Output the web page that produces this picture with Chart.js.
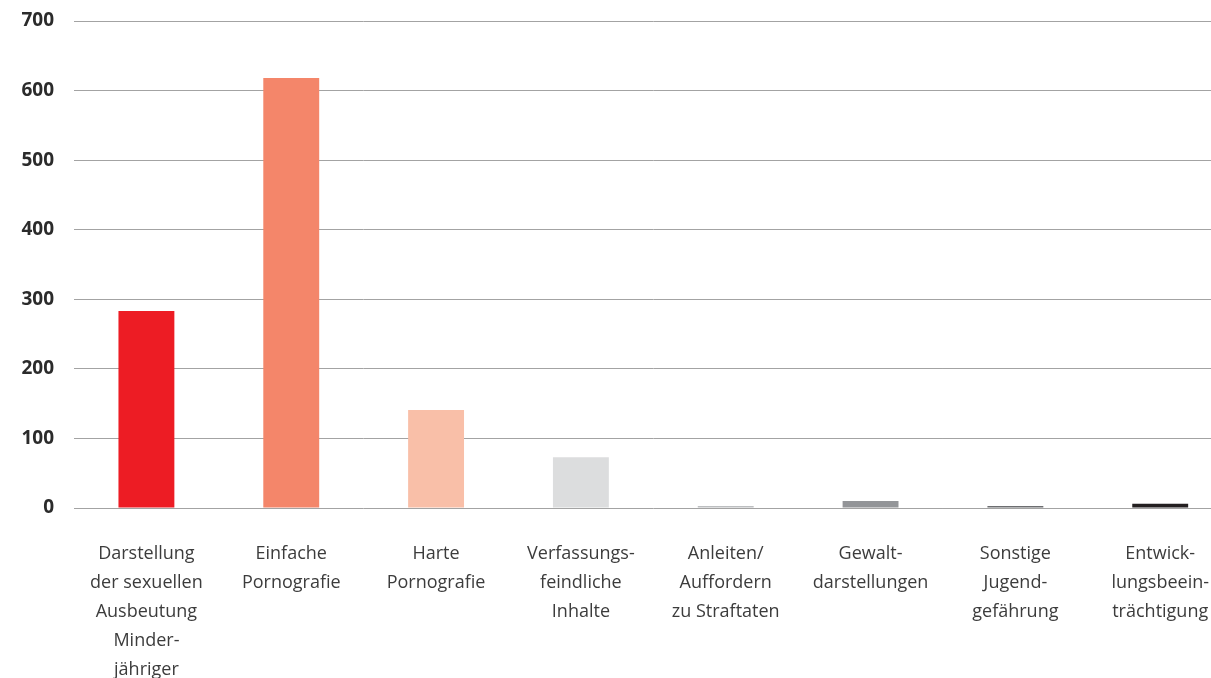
<!DOCTYPE html>
<html>
<head>
<meta charset="utf-8">
<script src="https://cdn.jsdelivr.net/npm/chart.js@4"></script>
<style>
  html, body { margin: 0; padding: 0; background: #fff; overflow: hidden; }
  #wrap { width: 1240px; height: 678px; }
</style>
</head>
<body>
<div id="wrap"><canvas id="bpjmChart" width="1240" height="678"></canvas></div>
<script>
// Categories (multi-line labels as drawn)
const categories = [
    ["Darstellung", "der sexuellen", "Ausbeutung", "Minder-", "jähriger"],
    ["Einfache", "Pornografie"],
    ["Harte", "Pornografie"],
    ["Verfassungs-", "feindliche", "Inhalte"],
    ["Anleiten/", "Auffordern", "zu Straftaten"],
    ["Gewalt-", "darstellungen"],
    ["Sonstige", "Jugend-", "gefährung"],
    ["Entwick-", "lungsbeein-", "trächtigung"]
];
const counts = [283, 618, 141, 73, 3, 10, 3, 6];
const barColors = ["#ED1C24", "#F4866A", "#F9BFA8", "#DCDDDE", "#BCBEC0", "#939598", "#6D6E71", "#231F20"];
const yTicks = [0, 100, 200, 300, 400, 500, 600, 700];

const ctx = document.getElementById('bpjmChart').getContext('2d');

const bpjmChart = new Chart(ctx, {
    type: 'bar',
    data: {
        labels: categories,
        datasets: [{
            data: counts,
            backgroundColor: barColors,
            borderWidth: 0,
            barPercentage: 0.386,
            categoryPercentage: 1
        }]
    },
    options: {
        responsive: false,
        animation: false,
        layout: { padding: { top: 21, left: 0, right: 0, bottom: 0 } },
        plugins: {
            legend: { display: false },
            tooltip: { enabled: false }
        },
        scales: {
            x: {
                grid: { display: false, drawTicks: false },
                border: { display: false },
                ticks: {
                    color: "#3c3c3c",
                    font: { family: "Open Sans", size: 18, lineHeight: 1.62 },
                    padding: 31,
                    maxRotation: 0,
                    autoSkip: false
                },
                afterFit: scale => { scale.height = 170; }
            },
            y: {
                min: 0,
                max: yTicks[yTicks.length - 1],
                afterBuildTicks: scale => { scale.ticks = yTicks.map(v => ({ value: v })); },
                grid: { color: "#a3a3a3", lineWidth: 1, drawTicks: false },
                border: { display: false },
                ticks: {
                    color: "#2b2b2b",
                    font: { family: "Open Sans", size: 19, weight: "bold" },
                    padding: 20
                },
                afterFit: scale => {
                    scale.width = 74;
                    scale.paddingTop = 0;
                    scale.paddingBottom = 0;
                }
            }
        }
    }
});
</script>
</body>
</html>
